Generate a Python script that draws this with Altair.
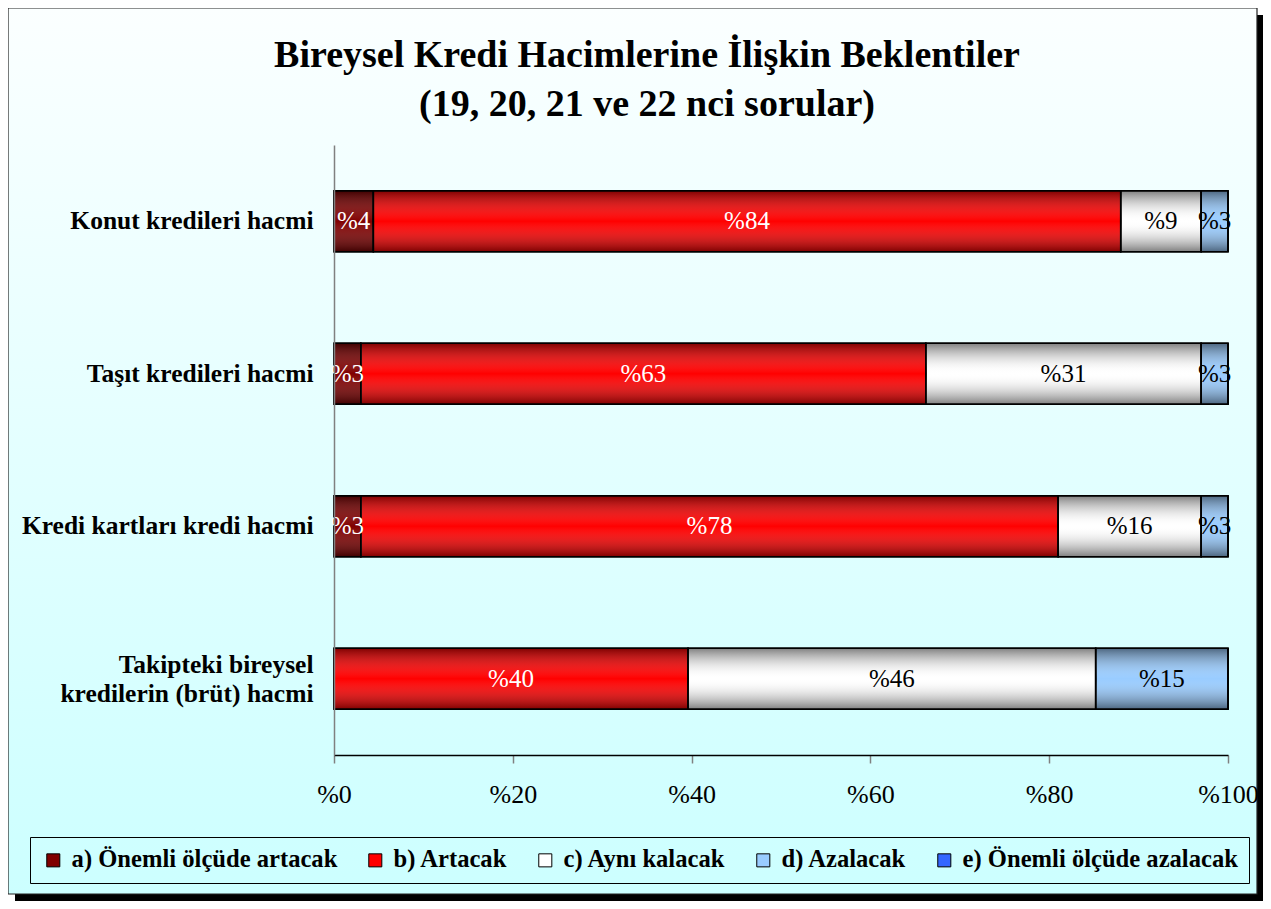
import altair as alt
import pandas as pd

categories = [
    "Konut kredileri hacmi",
    "Taşıt kredileri hacmi",
    "Kredi kartları kredi hacmi",
    "Takipteki bireysel kredilerin (brüt) hacmi",
]
series = [
    "a) Önemli ölçüde artacak",
    "b) Artacak",
    "c) Aynı kalacak",
    "d) Azalacak",
    "e) Önemli ölçüde azalacak",
]
colors = ["#800000", "#ff0000", "#ffffff", "#99ccff", "#3366ff"]

a_vals = [4.4, 3.0, 3.0, 0.0]
b_vals = [83.6, 63.2, 78.0, 39.6]
c_vals = [9.0, 30.8, 16.0, 45.6]
d_vals = [3.0, 3.0, 3.0, 14.8]
e_vals = [0.0, 0.0, 0.0, 0.0]

x_ticks = [0, 20, 40, 60, 80, 100]
title_lines = ["Bireysel Kredi Hacimlerine İlişkin Beklentiler", "(19, 20, 21 ve 22 nci sorular)"]

rows = []
for ci, cat in enumerate(categories):
    for si, vals in enumerate([a_vals, b_vals, c_vals, d_vals, e_vals]):
        rows.append({"category": cat, "series": series[si], "order": si, "value": vals[ci]})
df = pd.DataFrame(rows)

SERIF = "Liberation Serif"
W, H = 894, 610
PL, PT, PR, PB = 326, 137, 35, 146

one = pd.DataFrame({"k": [0]})

shadow = alt.Chart(one).mark_rect(color="black").encode(
    x=alt.value(-319), x2=alt.value(W + 35), y=alt.value(-130), y2=alt.value(H + 146)
)
bg = alt.Chart(one).mark_rect(
    color=alt.LinearGradient(
        gradient="linear", x1=0, x2=0, y1=0, y2=1,
        stops=[alt.GradientStop(color="#fbffff", offset=0), alt.GradientStop(color="#ccffff", offset=1)],
    ),
    stroke="#222222", strokeWidth=1.2,
).encode(x=alt.value(-326), x2=alt.value(W + 29), y=alt.value(-137), y2=alt.value(H + 139))

title = alt.Chart(one).mark_text(
    text=title_lines, font=SERIF, fontSize=38, fontWeight="bold", color="black",
    align="center", baseline="alphabetic", lineHeight=49,
).encode(x=alt.value(647 - 334), y=alt.value(67 - 145))

base = alt.Chart(df).transform_stack(
    stack="value", groupby=["category"], as_=["v0", "v1"], sort=[alt.SortField("order")]
)

NB = "\u00a0"
LONG = "Takipteki bireysel kredilerin (brüt) hacmi"
y_enc = alt.Y(
    "category:N", sort=categories,
    scale=alt.Scale(paddingInner=0.6, paddingOuter=0.3),
    axis=alt.Axis(
        title=None, ticks=False, domainColor="#808080", domainWidth=1.5, zindex=1,
        labelFont=SERIF, labelFontSize=25.5, labelFontWeight="bold", labelColor="black",
        labelPadding=21, labelLimit=400, labelLineHeight=29,
        labelExpr="datum.value == '" + LONG + "' ? ['Takipteki bireysel" + NB * 4 + "', 'kredilerin (brüt) hacmi'] : datum.value",
        labelOffset={"condition": {"test": "datum.value == '" + LONG + "'", "value": -14}, "value": 0},
    ),
)
x_enc = alt.X(
    "v0:Q", scale=alt.Scale(domain=[0, 100], nice=False),
    axis=alt.Axis(
        title=None, values=x_ticks, grid=False, labelExpr="'%' + datum.value", zindex=1, labelFlush=False,
        domainColor="black", domainWidth=1.5, tickColor="#808080", tickSize=8, tickWidth=1.5,
        labelFont=SERIF, labelFontSize=26, labelColor="black", labelPadding=18,
    ),
)

bars = base.mark_bar(stroke="black", strokeWidth=1.5).encode(
    y=y_enc, x=x_enc, x2="v1:Q",
    color=alt.Color(
        "series:N",
        scale=alt.Scale(domain=series, range=colors),
        legend=alt.Legend(
            title=None, orient="none", legendX=-304, legendY=692, direction="horizontal", columns=5,
            strokeColor="black", padding=11, symbolType="square", symbolSize=170,
            symbolStrokeColor="black", symbolStrokeWidth=1, labelFont=SERIF, labelFontSize=24.6,
            labelFontWeight="bold", labelColor="black", columnPadding=25, labelOffset=6, labelLimit=400,
            zindex=1,
        ),
    ),
)

shine = base.mark_bar(
    color=alt.LinearGradient(
        gradient="linear", x1=0, x2=0, y1=0, y2=1,
        stops=[
            alt.GradientStop(color="rgba(0,0,0,0.5)", offset=0),
            alt.GradientStop(color="rgba(255,255,255,0)", offset=0.5),
            alt.GradientStop(color="rgba(0,0,0,0.5)", offset=1),
        ],
    ),
    stroke="black", strokeWidth=1.5,
).encode(y=alt.Y("category:N", sort=categories), x="v0:Q", x2="v1:Q")

labels = base.transform_filter("datum.value > 0").transform_calculate(
    mid="(datum.v0 + datum.v1) / 2", lab="'%' + format(datum.value, '.0f')"
).mark_text(font=SERIF, fontSize=25, baseline="middle", align="center").encode(
    y=alt.Y("category:N", sort=categories),
    x="mid:Q",
    text="lab:N",
    color=alt.condition(
        alt.FieldOneOfPredicate(field="series", oneOf=series[:2]), alt.value("white"), alt.value("black")
    ),
)

chart = alt.layer(shadow, bg, title, bars, shine, labels).properties(
    width=W, height=H,
    autosize=alt.AutoSizeParams(type="none"),
    padding={"left": PL, "top": PT, "right": PR, "bottom": PB},
).configure_view(strokeWidth=0).configure(background="white")

chart.save("out.html", embed_options={"renderer": "svg", "actions": False})
